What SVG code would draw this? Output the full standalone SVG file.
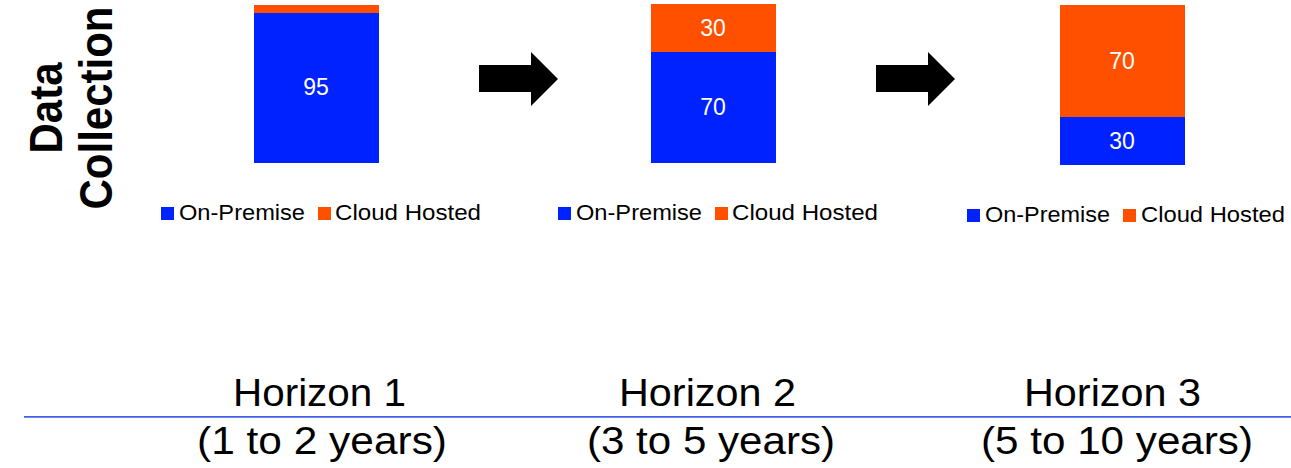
<svg xmlns="http://www.w3.org/2000/svg" width="1291" height="468" viewBox="0 0 1291 468">
  <style>
    .onprem { fill: #0022FF; }
    .cloud { fill: #FF5000; }
    .val { font-family: "Liberation Sans", Arial, sans-serif; font-size: 23px; fill: #FFFFFF; text-anchor: middle; }
    .leg { font-family: "Liberation Sans", Arial, sans-serif; font-size: 22px; fill: #000000; }
    .hz { font-family: "Liberation Sans", Arial, sans-serif; font-size: 38px; fill: #000000; }
    .title { font-family: "Liberation Sans", Arial, sans-serif; font-size: 42px; font-weight: bold; fill: #000000; text-anchor: middle; }
    .arrow { fill: #000000; }
  </style>

  <rect width="1291" height="468" fill="#FFFFFF"/>

  <!-- row heading -->
  <g id="heading">
    <text class="title" transform="translate(62,108) rotate(-90) scale(1,1.12)">Data</text>
    <text class="title" transform="translate(112,108) rotate(-90) scale(1,1.12)">Collection</text>
  </g>

  <!-- horizon 1 stacked bar -->
  <g id="bar-h1">
    <rect class="cloud" x="254" y="5" width="125" height="8"/>
    <rect class="onprem" x="254" y="13" width="125" height="150"/>
    <text class="val" x="316" y="95">95</text>
  </g>

  <!-- horizon 2 stacked bar -->
  <g id="bar-h2">
    <rect class="cloud" x="651" y="4" width="125" height="48"/>
    <rect class="onprem" x="651" y="52" width="125" height="111"/>
    <text class="val" x="713" y="36">30</text>
    <text class="val" x="713" y="115">70</text>
  </g>

  <!-- horizon 3 stacked bar -->
  <g id="bar-h3">
    <rect class="cloud" x="1060" y="5" width="125" height="112"/>
    <rect class="onprem" x="1060" y="117" width="125" height="48"/>
    <text class="val" x="1122" y="69">70</text>
    <text class="val" x="1122" y="149">30</text>
  </g>

  <!-- legends -->
  <g id="legend-h1">
    <rect class="onprem" x="161" y="207" width="13" height="13"/>
    <text class="leg" x="179" y="220" textLength="126" lengthAdjust="spacingAndGlyphs">On-Premise</text>
    <rect class="cloud" x="318" y="207" width="13" height="13"/>
    <text class="leg" x="335" y="220" textLength="146" lengthAdjust="spacingAndGlyphs">Cloud Hosted</text>
  </g>
  <g id="legend-h2">
    <rect class="onprem" x="558" y="207" width="13" height="13"/>
    <text class="leg" x="576" y="220" textLength="126" lengthAdjust="spacingAndGlyphs">On-Premise</text>
    <rect class="cloud" x="715" y="207" width="13" height="13"/>
    <text class="leg" x="732" y="220" textLength="146" lengthAdjust="spacingAndGlyphs">Cloud Hosted</text>
  </g>
  <g id="legend-h3">
    <rect class="onprem" x="967" y="209" width="13" height="13"/>
    <text class="leg" x="985" y="222" textLength="125" lengthAdjust="spacingAndGlyphs">On-Premise</text>
    <rect class="cloud" x="1123" y="209" width="13" height="13"/>
    <text class="leg" x="1141" y="222" textLength="144" lengthAdjust="spacingAndGlyphs">Cloud Hosted</text>
  </g>

  <!-- block arrows between horizons -->
  <g id="connectors">
    <polygon class="arrow" points="479,65 531,65 531,52 558,79 531,106 531,92 479,92"/>
    <polygon class="arrow" points="876,65 928,65 928,52 955,79 928,106 928,92 876,92"/>
  </g>

  <!-- timeline axis -->
  <g id="timeline">
    <line x1="24" y1="416.8" x2="1291" y2="416.8" stroke="#3F5FE8" stroke-width="1.8"/>
    <text class="hz" x="233" y="406" textLength="173" lengthAdjust="spacingAndGlyphs">Horizon 1</text>
    <text class="hz" x="197" y="454" textLength="250" lengthAdjust="spacingAndGlyphs">(1 to 2 years)</text>
    <text class="hz" x="619" y="406" textLength="177" lengthAdjust="spacingAndGlyphs">Horizon 2</text>
    <text class="hz" x="587" y="454" textLength="248" lengthAdjust="spacingAndGlyphs">(3 to 5 years)</text>
    <text class="hz" x="1024" y="406" textLength="177" lengthAdjust="spacingAndGlyphs">Horizon 3</text>
    <text class="hz" x="981" y="454" textLength="272" lengthAdjust="spacingAndGlyphs">(5 to 10 years)</text>
  </g>
</svg>
